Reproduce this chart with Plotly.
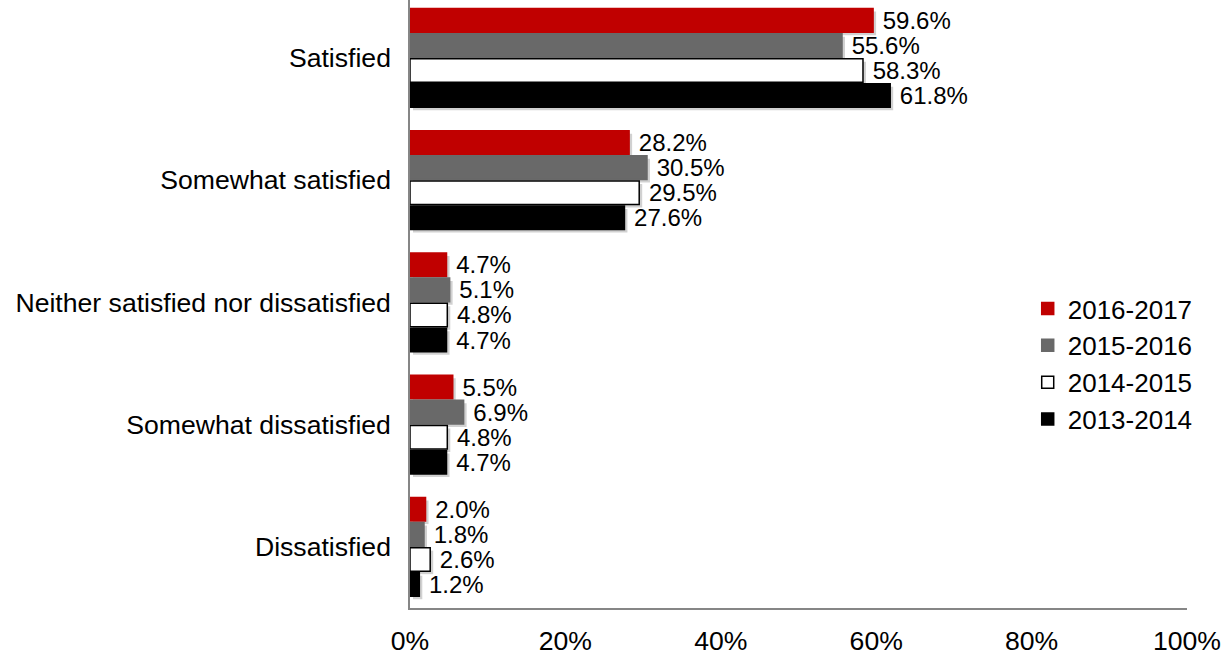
import plotly.graph_objects as go

categories = [
    "Satisfied",
    "Somewhat satisfied",
    "Neither satisfied nor dissatisfied",
    "Somewhat dissatisfied",
    "Dissatisfied",
]
series_names = ["2016-2017", "2015-2016", "2014-2015", "2013-2014"]
y2016_2017 = [59.6, 28.2, 4.7, 5.5, 2.0]
y2015_2016 = [55.6, 30.5, 5.1, 6.9, 1.8]
y2014_2015 = [58.3, 29.5, 4.8, 4.8, 2.6]
y2013_2014 = [61.8, 27.6, 4.7, 4.7, 1.2]
x_ticks = [0, 20, 40, 60, 80, 100]

values = [y2016_2017, y2015_2016, y2014_2015, y2013_2014]
fills = ["#C00000", "#696969", "#FFFFFF", "#000000"]
edges = ["#C00000", "#696969", "#000000", "#000000"]

font = "Liberation Sans, Arial, sans-serif"
x_range = [0, 100]
y_range = [4.5, -0.474]
# soft drop shadow: same bars on hidden axes nudged ~3px down-right
dx = 3 / 7.77
dy = 3 / 122.2

fig = go.Figure()
for vals in values:
    fig.add_trace(go.Bar(
        y=categories, x=vals, orientation="h", showlegend=False,
        marker=dict(color="rgba(0,0,0,0.18)", line=dict(width=0)),
        hoverinfo="skip", xaxis="x", yaxis="y",
    ))
for name, vals, fill, edge in zip(series_names, values, fills, edges):
    fig.add_trace(go.Bar(
        y=categories, x=vals, name=name, orientation="h",
        marker=dict(color=fill, line=dict(color=edge, width=1.5)),
        texttemplate="\u00a0%{x:.1f}%", textposition="outside",
        constraintext="none", cliponaxis=False,
        textfont=dict(size=24, color="#000000", family=font),
        xaxis="x2", yaxis="y2",
    ))

fig.update_layout(
    width=1231, height=655,
    margin=dict(l=410, r=44, t=0, b=47),
    paper_bgcolor="white", plot_bgcolor="white",
    barmode="group", bargap=0.18, bargroupgap=0.06,
    font=dict(family=font, size=26.6, color="#000000"),
    legend=dict(
        x=0.795, y=0.531, xanchor="left", yanchor="top",
        font=dict(size=26, family=font), traceorder="normal",
        bgcolor="rgba(0,0,0,0)", itemwidth=30, tracegroupgap=0,
    ),
    showlegend=True,
    xaxis=dict(range=[x_range[0] - dx, x_range[1] - dx], visible=False,
               automargin=False),
    yaxis=dict(type="category", range=[y_range[0] - dy, y_range[1] - dy],
               visible=False, automargin=False),
    xaxis2=dict(
        overlaying="x", range=x_range, tickvals=x_ticks,
        ticktext=[f"{t}%" for t in x_ticks], side="bottom",
        showgrid=False, zeroline=False, showline=True, linecolor="#868686",
        linewidth=1.5, ticks="", tickfont=dict(size=26.6),
        ticklabelstandoff=8, automargin=False,
    ),
    yaxis2=dict(
        overlaying="y", type="category", range=y_range, side="left",
        showgrid=False, zeroline=False, showline=True, linecolor="#868686",
        linewidth=1.5, ticks="", tickfont=dict(size=26.6),
        ticklabelstandoff=12, automargin=False,
    ),
)

fig.write_html(
    "out.html",
    config={"displayModeBar": False},
    post_script="document.body.style.margin='0px';",
)
